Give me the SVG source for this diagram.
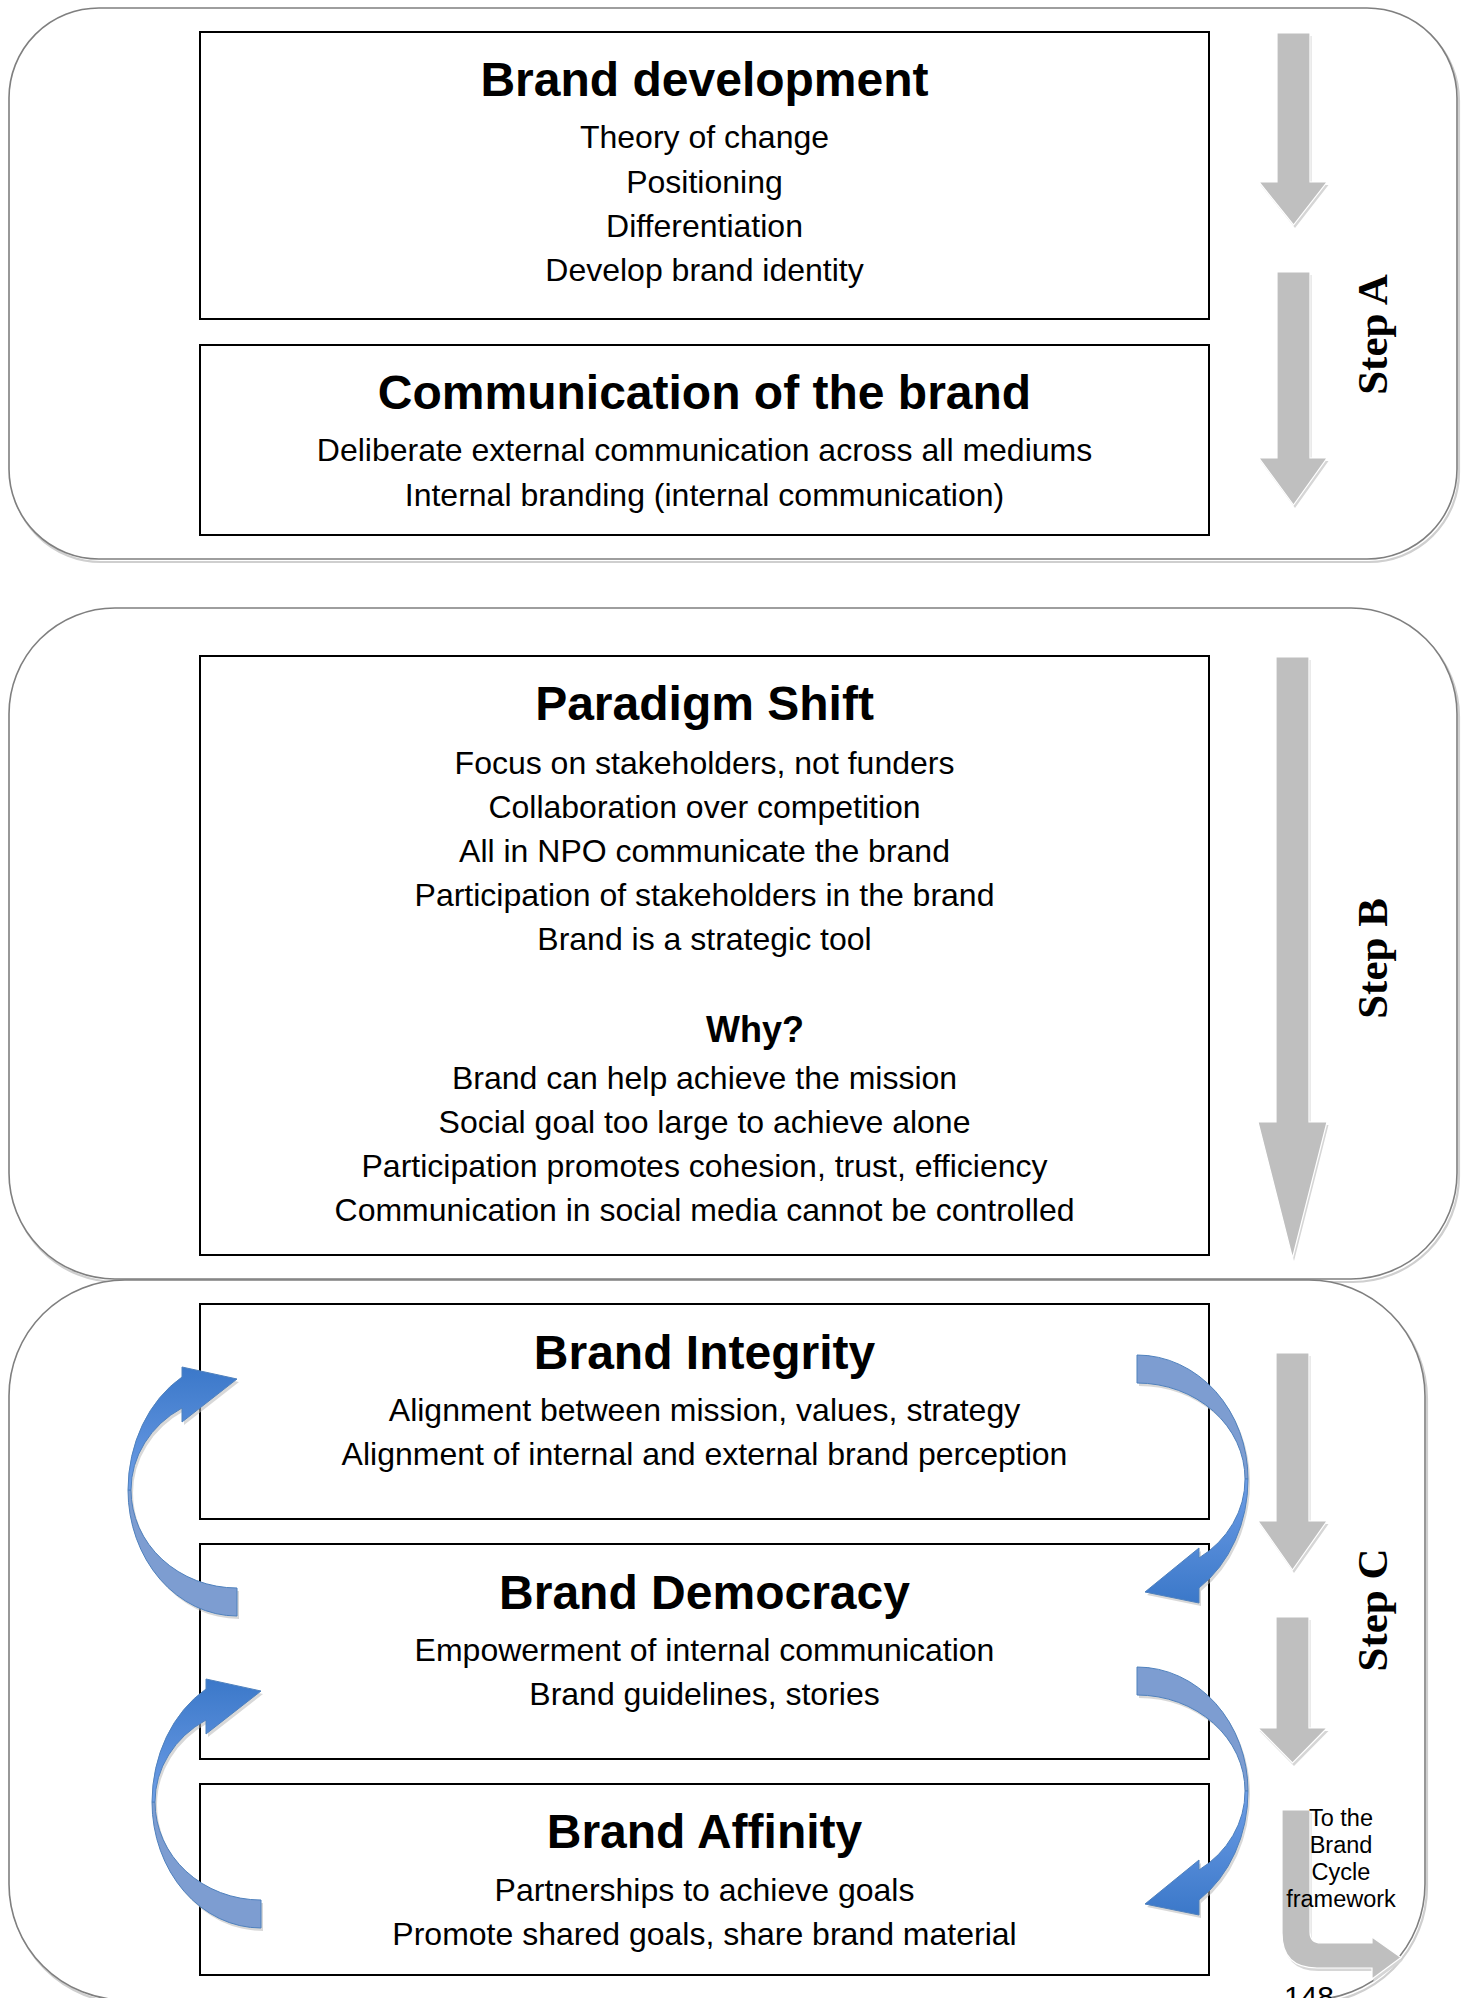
<svg xmlns="http://www.w3.org/2000/svg" width="1465" height="1998" viewBox="0 0 1465 1998">
<defs>
<style>
.panel{fill:#ffffff;stroke:#7f7f7f;stroke-width:1.6}
.pshadow{fill:none;stroke:#cfcfcf;stroke-width:2.2}
.box{fill:#ffffff;stroke:#000000;stroke-width:2}
.h{font-family:"Liberation Sans",Arial,sans-serif;font-weight:bold;font-size:48px;fill:#000;text-anchor:middle}
.b{font-family:"Liberation Sans",Arial,sans-serif;font-size:32px;fill:#000;text-anchor:middle}
.why{font-family:"Liberation Sans",Arial,sans-serif;font-weight:bold;font-size:36px;fill:#000;text-anchor:middle}
.step{font-family:"Liberation Serif","Times New Roman",serif;font-weight:bold;font-size:43px;fill:#000;text-anchor:middle}
.small{font-family:"Liberation Sans",Arial,sans-serif;font-size:23.5px;fill:#000;text-anchor:middle}
.garrow{fill:#bfbfbf;stroke:#ffffff;stroke-width:1.2}
.gshadow{fill:#d6d6d6}
.bshadow{fill:#b8b8b8;opacity:0.55}
.back{fill:#7d9dd1;stroke:#4f81bd;stroke-width:1}
.frontL{fill:url(#gradL);stroke:#4f81bd;stroke-width:1}
.frontR{fill:url(#gradR);stroke:#4f81bd;stroke-width:1}
</style>
<linearGradient id="gradL" x1="0" y1="0" x2="0" y2="1">
<stop offset="0" stop-color="#3b78c9"/>
<stop offset="1" stop-color="#6d9de6"/>
</linearGradient>
<linearGradient id="gradR" x1="0" y1="0" x2="0" y2="1">
<stop offset="0" stop-color="#6d9de6"/>
<stop offset="1" stop-color="#3b78c9"/>
</linearGradient>
<g id="leftArrow">
<path class="bshadow" transform="translate(2,3)" d="M128,1490 A109,131 0 0 1 182,1377 L182,1367 L237,1379 L182,1422 L182,1408 A106,96 0 0 0 131,1490 Z M128,1490 A109,126 0 0 0 237,1616 L237,1588 A106,98 0 0 1 131,1490 Z"/>
<path class="back" d="M128,1490 A109,126 0 0 0 237,1616 L237,1588 A106,98 0 0 1 131,1490 Z"/>
<path class="frontL" d="M128,1490 A109,131 0 0 1 182,1377 L182,1367 L237,1379 L182,1422 L182,1408 A106,96 0 0 0 131,1490 Z"/>
</g>
<g id="rightArrow">
<path class="bshadow" transform="translate(2,3)" d="M1137,1355 A111,124 0 0 1 1248,1479 L1245,1479 A108,96 0 0 0 1137,1383 Z M1248,1479 A111,131 0 0 1 1199,1588 L1199,1603 L1145,1592 L1199,1548 L1199,1558 A108,96 0 0 0 1245,1479 Z"/>
<path class="back" d="M1137,1355 A111,124 0 0 1 1248,1479 L1245,1479 A108,96 0 0 0 1137,1383 Z"/>
<path class="frontR" d="M1248,1479 A111,131 0 0 1 1199,1588 L1199,1603 L1145,1592 L1199,1548 L1199,1558 A108,96 0 0 0 1245,1479 Z"/>
</g>
</defs>
<rect width="1465" height="1998" fill="#ffffff"/>

<g id="panel-a">
<rect class="pshadow" x="11" y="11" width="1448" height="551" rx="90"/>
<rect class="panel" x="9" y="8" width="1448" height="551" rx="90"/>
</g>
<g id="panel-b">
<rect class="pshadow" x="11" y="611" width="1448" height="671" rx="106"/>
<rect class="panel" x="9" y="608" width="1448" height="671" rx="106"/>
</g>
<g id="panel-c">
<rect class="pshadow" x="11" y="1283" width="1416" height="720" rx="116"/>
<rect class="panel" x="9" y="1280" width="1416" height="720" rx="116"/>
</g>

<g id="brand-development">
<rect class="box" x="200" y="32" width="1009" height="287"/>
<text class="h" x="704.5" y="96">Brand development</text>
<text class="b" x="704.5" y="148">Theory of change</text>
<text class="b" x="704.5" y="192.5">Positioning</text>
<text class="b" x="704.5" y="237">Differentiation</text>
<text class="b" x="704.5" y="281">Develop brand identity</text>
</g>
<g id="communication-of-the-brand">
<rect class="box" x="200" y="345" width="1009" height="190"/>
<text class="h" x="704.5" y="409">Communication of the brand</text>
<text class="b" x="704.5" y="461">Deliberate external communication across all mediums</text>
<text class="b" x="704.5" y="506">Internal branding (internal communication)</text>
</g>
<g id="paradigm-shift">
<rect class="box" x="200" y="656" width="1009" height="599"/>
<text class="h" x="704.5" y="720">Paradigm Shift</text>
<text class="b" x="704.5" y="773.5">Focus on stakeholders, not funders</text>
<text class="b" x="704.5" y="817.5">Collaboration over competition</text>
<text class="b" x="704.5" y="861.5">All in NPO communicate the brand</text>
<text class="b" x="704.5" y="905.5">Participation of stakeholders in the brand</text>
<text class="b" x="704.5" y="949.5">Brand is a strategic tool</text>
<text class="why" x="755" y="1042">Why?</text>
<text class="b" x="704.5" y="1089">Brand can help achieve the mission</text>
<text class="b" x="704.5" y="1133">Social goal too large to achieve alone</text>
<text class="b" x="704.5" y="1177">Participation promotes cohesion, trust, efficiency</text>
<text class="b" x="704.5" y="1221">Communication in social media cannot be controlled</text>
</g>
<g id="brand-integrity">
<rect class="box" x="200" y="1304" width="1009" height="215"/>
<text class="h" x="704.5" y="1368.5">Brand Integrity</text>
<text class="b" x="704.5" y="1421">Alignment between mission, values, strategy</text>
<text class="b" x="704.5" y="1465">Alignment of internal and external brand perception</text>
</g>
<g id="brand-democracy">
<rect class="box" x="200" y="1544" width="1009" height="215"/>
<text class="h" x="704.5" y="1608.5">Brand Democracy</text>
<text class="b" x="704.5" y="1660.5">Empowerment of internal communication</text>
<text class="b" x="704.5" y="1705">Brand guidelines, stories</text>
</g>
<g id="brand-affinity">
<rect class="box" x="200" y="1784" width="1009" height="191"/>
<text class="h" x="704.5" y="1848">Brand Affinity</text>
<text class="b" x="704.5" y="1900.5">Partnerships to achieve goals</text>
<text class="b" x="704.5" y="1944.5">Promote shared goals, share brand material</text>
</g>

<g id="connectors">
<g id="step-arrows">
<path class="gshadow" transform="translate(1.5,3)" d="M1277,33 H1310 V182 H1327 L1293.5,225 L1259,182 H1277 Z"/>
<path class="garrow" d="M1277,33 H1310 V182 H1327 L1293.5,225 L1259,182 H1277 Z"/>
<path class="gshadow" transform="translate(1.5,3)" d="M1277,272 H1310 V458 H1327 L1293.5,505 L1259,458 H1277 Z"/>
<path class="garrow" d="M1277,272 H1310 V458 H1327 L1293.5,505 L1259,458 H1277 Z"/>
<path class="gshadow" transform="translate(1.5,3)" d="M1276,657 H1309 V1122 H1327 L1292.5,1258 L1258,1122 H1276 Z"/>
<path class="garrow" d="M1276,657 H1309 V1122 H1327 L1292.5,1258 L1258,1122 H1276 Z"/>
<path class="gshadow" transform="translate(1.5,3)" d="M1276,1353 H1309 V1521 H1327 L1292.5,1570 L1258,1521 H1276 Z"/>
<path class="garrow" d="M1276,1353 H1309 V1521 H1327 L1292.5,1570 L1258,1521 H1276 Z"/>
<path class="gshadow" transform="translate(1.5,3)" d="M1276,1617 H1309 V1728 H1327 L1292.5,1763 L1258,1728 H1276 Z"/>
<path class="garrow" d="M1276,1617 H1309 V1728 H1327 L1292.5,1763 L1258,1728 H1276 Z"/>
<path class="gshadow" transform="translate(1.5,3)" d="M1282,1810 H1310 V1932 Q1310,1943 1321,1943 H1372 V1937 L1401,1957.5 L1372,1979 V1968 H1317 Q1282,1968 1282,1933 Z"/>
<path class="garrow" d="M1282,1810 H1310 V1932 Q1310,1943 1321,1943 H1372 V1937 L1401,1957.5 L1372,1979 V1968 H1317 Q1282,1968 1282,1933 Z"/>
</g>
<g id="cycle-arrows">
<use href="#leftArrow"/>
<use href="#leftArrow" transform="translate(24,312)"/>
<use href="#rightArrow"/>
<use href="#rightArrow" transform="translate(0,312)"/>
</g>
</g>

<g id="labels">
<text class="step" transform="translate(1387,334.5) rotate(-90)">Step A</text>
<text class="step" transform="translate(1387,958.5) rotate(-90)">Step B</text>
<text class="step" transform="translate(1387,1610) rotate(-90)">Step C</text>
<text class="small" x="1341" y="1826">To the</text>
<text class="small" x="1341" y="1853">Brand</text>
<text class="small" x="1341" y="1880">Cycle</text>
<text class="small" x="1341" y="1907">framework</text>
<text x="1284" y="2007" style="font-family:'Liberation Sans',Arial,sans-serif;font-size:30px;fill:#000">148</text>
</g>
</svg>
